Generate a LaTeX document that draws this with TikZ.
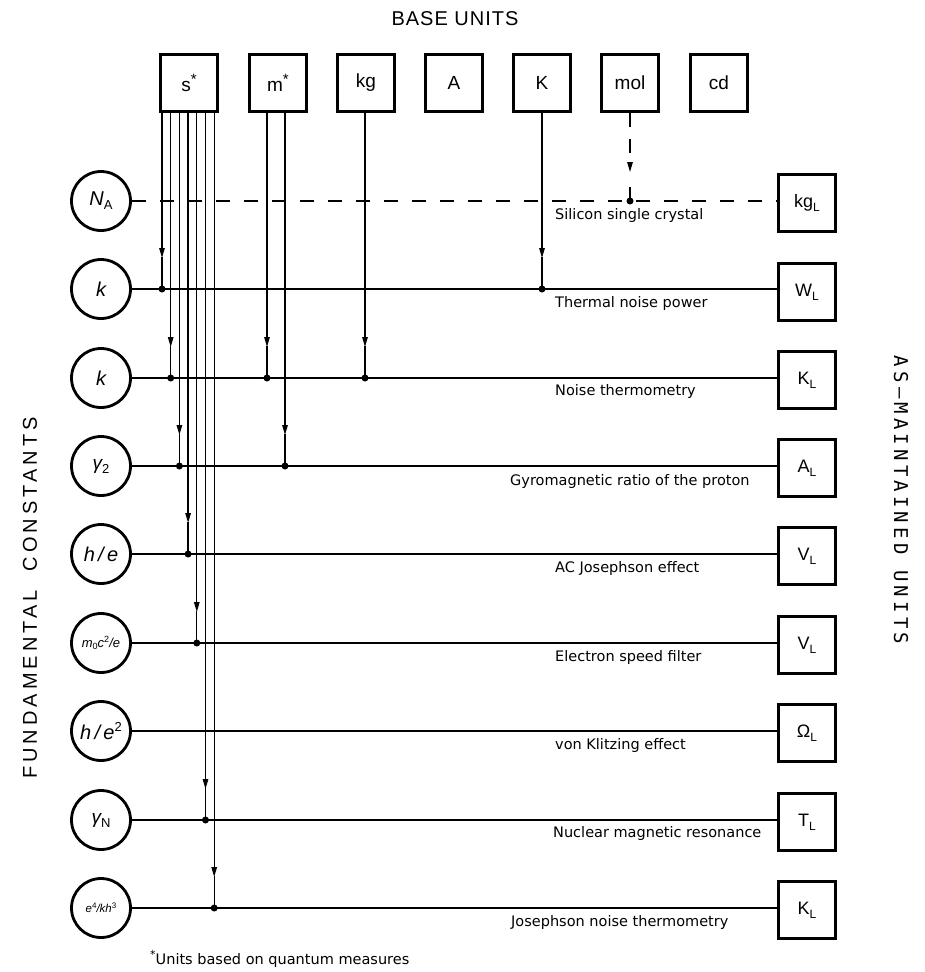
\documentclass[tikz,border=0pt]{standalone}
\usepackage{fontspec}
\setmainfont{Liberation Sans}
\newfontfamily\lblfont{DejaVu Sans}
\newfontfamily\basefont[LetterSpace=5]{Liberation Sans}
\newfontfamily\fundfont[LetterSpace=20]{Liberation Sans}
\newfontfamily\asmfont[LetterSpace=22]{DejaVu Sans Mono}
\usetikzlibrary{arrows.meta,calc}
\newcommand\subL[1]{#1\raisebox{-0.45ex}{\fontsize{12}{12}\selectfont L}}
\newcommand\starsup[1]{#1\raisebox{0.65ex}{\fontsize{15}{15}\selectfont *}}
\newcommand\feed[2]{\draw[arr] (#1.south -| #2) -- ($(#2)+(0,-31)$);\draw[link] ($(#2)+(0,-32)$) -- (#2.center);}
\begin{document}
\begin{tikzpicture}[x=1pt,y=-1pt,
  topbox/.style={draw, line width=3pt, minimum width=57pt, minimum height=57pt, inner sep=0pt, font=\fontsize{19}{19}\selectfont},
  mbox/.style={draw, line width=3pt, minimum width=57pt, minimum height=57pt, inner sep=0pt, font=\fontsize{18}{18}\selectfont},
  const/.style={circle, draw, line width=2.8pt, minimum size=59pt, inner sep=0pt, font=\fontsize{20}{20}\selectfont\itshape},
  link/.style={line width=1.3pt},
  dot/.style={circle, fill, inner sep=0pt, minimum size=7pt},
  arr/.style={line width=1.3pt, -{Triangle[length=10pt,width=5.5pt]}},
  lbl/.style={font=\lblfont\fontsize{14.5}{14.5}\selectfont, anchor=mid west, inner sep=0pt},
  dashline/.style={line width=1.3pt, dash pattern=on 14pt off 14pt}
]
\fill[white] (0,0) rectangle (925,972);
\useasboundingbox (0,0) rectangle (925,972);

% titles
\node[font=\basefont\fontsize{20}{20}\selectfont] (base) at (455,19) {BASE UNITS};
\node[font=\fundfont\fontsize{20}{20}\selectfont, rotate=90] (fund) at (30,598) {FUNDAMENTAL\ \ CONSTANTS};
\node[font=\asmfont\fontsize{19}{19}\selectfont, rotate=-90] (asm) at (901,500) {AS\textendash MAINTAINED\ UNITS};

% base unit boxes
\node[topbox] (bs) at (189,83) {\starsup{s}};
\node[topbox] (bm) at (278,83) {\starsup{m}};
\node[topbox] (bkg) at (366,83) {kg};
\node[topbox] (bA) at (454,83) {A};
\node[topbox] (bK) at (542,83) {K};
\node[topbox] (bmol) at (630,83) {mol};
\node[topbox] (bcd) at (719,83) {cd};

% fundamental constants
\node[const] (c1) at (101,201) {N\raisebox{-0.4ex}{\upshape\fontsize{13}{13}\selectfont A}};
\node[const] (c2) at (101,289) {k};
\node[const] (c3) at (101,378) {k};
\node[const] (c4) at (101,466) {\fontsize{19}{19}\selectfont γ\raisebox{-0.4ex}{\upshape\fontsize{13}{13}\selectfont 2}};
\node[const] (c5) at (101,554) {h\,/\,e};
\node[const] (c6) at (101,643) {\fontsize{13}{13}\selectfont m\raisebox{-0.4ex}{\upshape\fontsize{9}{9}\selectfont 0}c\raisebox{0.7ex}{\upshape\fontsize{9}{9}\selectfont 2}/e};
\node[const] (c7) at (101,731) {h\,/\,e\raisebox{0.7ex}{\upshape\fontsize{13}{13}\selectfont 2}};
\node[const] (c8) at (101,820) {\fontsize{19}{19}\selectfont γ\raisebox{-0.4ex}{\upshape\fontsize{13}{13}\selectfont N}};
\node[const] (c9) at (101,908) {\fontsize{11.5}{11.5}\selectfont e\raisebox{0.7ex}{\upshape\fontsize{8}{8}\selectfont 4}/kh\raisebox{0.7ex}{\upshape\fontsize{8}{8}\selectfont 3}};

% as-maintained units
\node[mbox] (r1) at (807,203) {\subL{kg}};
\node[mbox] (r2) at (807,292) {\subL{W}};
\node[mbox] (r3) at (807,380) {\subL{K}};
\node[mbox] (r4) at (807,468) {\subL{A}};
\node[mbox] (r5) at (807,556) {\subL{V}};
\node[mbox] (r6) at (807,645) {\subL{V}};
\node[mbox] (r7) at (807,733) {\subL{Ω}};
\node[mbox] (r8) at (807,822) {\subL{T}};
\node[mbox] (r9) at (807,910) {\subL{K}};

% horizontal connectors
\draw[dashline] (c1.east) -- (c1.east -| r1.west);
\draw[link] (c2.east) -- (c2.east -| r2.west);
\draw[link] (c3.east) -- (c3.east -| r3.west);
\draw[link] (c4.east) -- (c4.east -| r4.west);
\draw[link] (c5.east) -- (c5.east -| r5.west);
\draw[link] (c6.east) -- (c6.east -| r6.west);
\draw[link] (c7.east) -- (c7.east -| r7.west);
\draw[link] (c8.east) -- (c8.east -| r8.west);
\draw[link] (c9.east) -- (c9.east -| r9.west);

% junction dots
\node[dot] (s1) at (162,289) {};
\node[dot] (s2) at (170.7,378) {};
\node[dot] (s3) at (179.4,466) {};
\node[dot] (s4) at (188.1,554) {};
\node[dot] (s5) at (196.8,643) {};
\node[dot] (s6) at (205.5,820) {};
\node[dot] (s7) at (214.2,908) {};
\node[dot] (m1) at (267,378) {};
\node[dot] (m2) at (285,466) {};
\node[dot] (kgd) at (365,378) {};
\node[dot] (Kd) at (542,289) {};
\node[dot] (mold) at (630,201) {};

% vertical feeds
\feed{bs}{s1}
\feed{bs}{s2}
\feed{bs}{s3}
\feed{bs}{s4}
\feed{bs}{s5}
\feed{bs}{s6}
\feed{bs}{s7}
\feed{bm}{m1}
\feed{bm}{m2}
\feed{bkg}{kgd}
\feed{bK}{Kd}
\draw[line width=1.3pt, dash pattern=on 14pt off 12pt, -{Triangle[length=10pt,width=5.5pt]}] (bmol.south -| mold) -- ($(mold)+(0,-29)$);
\draw[line width=1.3pt] ($(mold)+(0,-14)$) -- (mold.center);

% method labels
\node[lbl] (t1) at (555,217) {Silicon single crystal};
\node[lbl] (t2) at (555,305) {Thermal noise power};
\node[lbl] (t3) at (555,393) {Noise thermometry};
\node[lbl] (t4) at (510,483) {Gyromagnetic ratio of the proton};
\node[lbl] (t5) at (555,570) {AC Josephson effect};
\node[lbl] (t6) at (555,659) {Electron speed filter};
\node[lbl] (t7) at (555,747) {von Klitzing effect};
\node[lbl] (t8) at (553,835) {Nuclear magnetic resonance};
\node[lbl] (t9) at (511,924) {Josephson noise thermometry};

% footnote
\node[lbl] (foot) at (150,962) {\raisebox{0.8ex}{\fontsize{11}{11}\selectfont *}Units based on quantum measures};
\end{tikzpicture}
\end{document}
